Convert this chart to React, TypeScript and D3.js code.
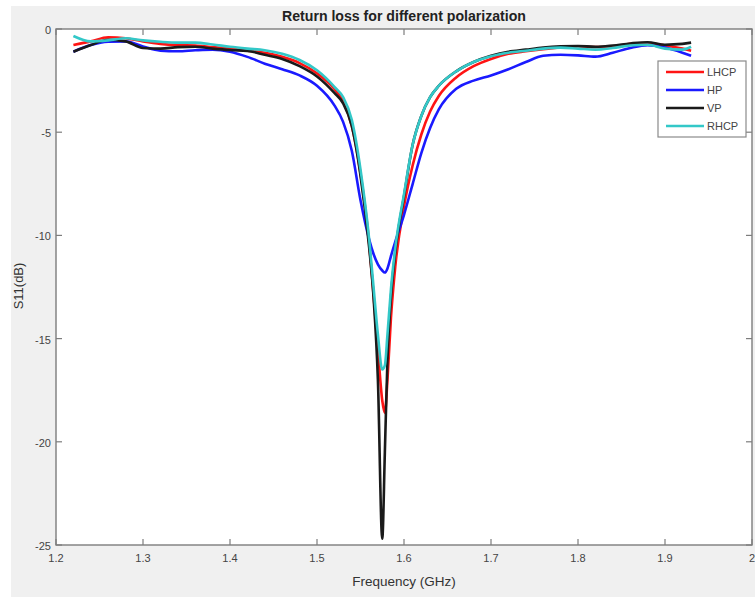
import React from 'react';
import * as d3 from 'd3';

const freq = [1.22,1.24,1.26,1.28,1.30,1.32,1.34,1.36,1.38,1.40,1.42,1.44,1.46,1.48,1.50,
  1.52,1.53,1.54,1.55,1.56,
  1.565,1.57,1.575,1.578,1.581,1.585,1.59,
  1.60,1.61,1.62,1.63,1.64,
  1.66,1.68,1.70,1.72,1.74,1.76,1.78,1.80,1.82,1.84,1.86,1.88,1.90,1.92,
  1.93];

const lhcp = [-0.78,-0.6,-0.4,-0.45,-0.6,-0.72,-0.78,-0.8,-0.88,-0.95,-1.05,-1.15,-1.35,-1.65,-2.15,
  -2.9,-3.5,-4.7,-7.0,-10.4,
  -12.9,-15.5,-18.0,-18.6,-17.0,-14.0,-11.5,
  -8.6,-6.6,-5.1,-4.0,-3.25,
  -2.35,-1.8,-1.45,-1.2,-1.08,-0.98,-0.9,-0.85,-0.88,-0.85,-0.72,-0.68,-0.8,-0.95,
  -1.05];

const hp = [-1.1,-0.78,-0.62,-0.6,-0.85,-1.05,-1.08,-1.03,-1.0,-1.1,-1.35,-1.68,-1.95,-2.25,-2.75,
  -3.7,-4.5,-5.9,-8.3,-10.2,
  -10.9,-11.4,-11.7,-11.8,-11.6,-11.0,-10.3,
  -9.0,-7.5,-6.0,-4.8,-3.9,
  -2.9,-2.5,-2.25,-1.95,-1.6,-1.3,-1.25,-1.28,-1.34,-1.15,-0.92,-0.78,-0.9,-1.15,
  -1.3];

const vp = [-1.1,-0.78,-0.52,-0.6,-0.92,-0.95,-0.88,-0.86,-0.95,-1.02,-1.06,-1.25,-1.45,-1.8,-2.3,
  -3.1,-3.6,-4.7,-7.1,-10.6,
  -13.0,-17.0,-24.7,-20.5,-16.0,-13.0,-10.8,
  -8.1,-5.6,-4.2,-3.3,-2.75,
  -2.05,-1.6,-1.3,-1.1,-1.0,-0.9,-0.84,-0.82,-0.86,-0.8,-0.7,-0.64,-0.76,-0.72,
  -0.66];

const rhcp = [-0.34,-0.6,-0.55,-0.45,-0.55,-0.62,-0.66,-0.66,-0.75,-0.86,-0.95,-1.03,-1.2,-1.5,-2.0,
  -2.8,-3.3,-4.4,-6.8,-10.2,
  -12.5,-14.8,-16.5,-16.3,-14.8,-12.6,-10.6,
  -8.0,-5.6,-4.2,-3.3,-2.75,
  -2.05,-1.6,-1.32,-1.15,-1.05,-0.95,-0.9,-0.95,-1.0,-0.92,-0.8,-0.76,-0.95,-1.0,
  -0.86];

const seriesNames = ['LHCP', 'HP', 'VP', 'RHCP'];
const seriesValues = [lhcp, hp, vp, rhcp];
const seriesColors = ['#ff1414', '#1a1aff', '#1a1a1a', '#33c8c8'];

const xTicks = [1.2, 1.3, 1.4, 1.5, 1.6, 1.7, 1.8, 1.9, 2];
const yTicks = [0, -5, -10, -15, -20, -25];

const titleText = 'Return loss for different polarization';
const xLabel = 'Frequency (GHz)';
const yLabel = 'S11(dB)';

export default function App() {
  const W = 755, H = 597;
  const L = 56, T = 29, R = 752, B = 545;
  const x = d3.scaleLinear().domain([1.2, 2]).range([L, R]);
  const y = d3.scaleLinear().domain([-25, 0]).range([B, T]);
  const line = d3.line<number>()
    .x((_, i) => x(freq[i]))
    .y((d) => y(d))
    .curve(d3.curveMonotoneX);
  const tick = 6;
  const axisColor = '#7d7d7d';
  const font = 'Liberation Sans, Arial, Helvetica, sans-serif';
  return (
    <svg width={W} height={H} style={{ position: 'absolute', left: 0, top: 0 }} fontFamily={font}>
      <rect x={0} y={0} width={W} height={H} fill="#ffffff" />
      <rect x={11} y={6} width={W - 11} height={H - 6} fill="#f0f0f0" />
      <rect x={L} y={T} width={R - L} height={B - T} fill="#ffffff" />
      <text x={(L + R) / 2} y={21} textAnchor="middle" fontSize={14} fontWeight="bold" fill="#222" textLength={244} lengthAdjust="spacingAndGlyphs">{titleText}</text>
      <defs>
        <clipPath id="plotclip">
          <rect x={L} y={T} width={R - L} height={B - T} />
        </clipPath>
      </defs>
      <g clipPath="url(#plotclip)">
        {seriesValues.map((vals, k) => (
          <path key={k} d={line(vals) || ''} fill="none" stroke={seriesColors[k]} strokeWidth={2.6} strokeLinejoin="round" />
        ))}
      </g>
      <rect x={L} y={T} width={R - L} height={B - T} fill="none" stroke={axisColor} strokeWidth={1.4} />
      {xTicks.map((t) => (
        <g key={'x' + t}>
          <line x1={x(t)} x2={x(t)} y1={B} y2={B - tick} stroke={axisColor} strokeWidth={1.2} />
          <line x1={x(t)} x2={x(t)} y1={T} y2={T + tick} stroke={axisColor} strokeWidth={1.2} />
          <text x={x(t)} y={B + 17} textAnchor="middle" fontSize={11} fill="#444">{String(t)}</text>
        </g>
      ))}
      {yTicks.map((t) => (
        <g key={'y' + t}>
          <line x1={L} x2={L + tick} y1={y(t)} y2={y(t)} stroke={axisColor} strokeWidth={1.2} />
          <line x1={R} x2={R - tick} y1={y(t)} y2={y(t)} stroke={axisColor} strokeWidth={1.2} />
          <text x={L - 5} y={y(t) + 5} textAnchor="end" fontSize={11} fill="#444">{String(t)}</text>
        </g>
      ))}
      <text x={(L + R) / 2} y={586} textAnchor="middle" fontSize={13.5} fill="#333">{xLabel}</text>
      <text transform={`translate(23, 286) rotate(-90)`} textAnchor="middle" fontSize={13} fill="#333">{yLabel}</text>
      <g>
        <rect x={658} y={61} width={88} height={76} fill="#ffffff" stroke="#8a8a8a" strokeWidth={1.2} />
        {seriesNames.map((n, k) => (
          <g key={n}>
            <line x1={666} x2={704} y1={72 + k * 18} y2={72 + k * 18} stroke={seriesColors[k]} strokeWidth={2.6} />
            <text x={707} y={72 + k * 18 + 4} fontSize={11} fill="#444">{n}</text>
          </g>
        ))}
      </g>
    </svg>
  );
}
